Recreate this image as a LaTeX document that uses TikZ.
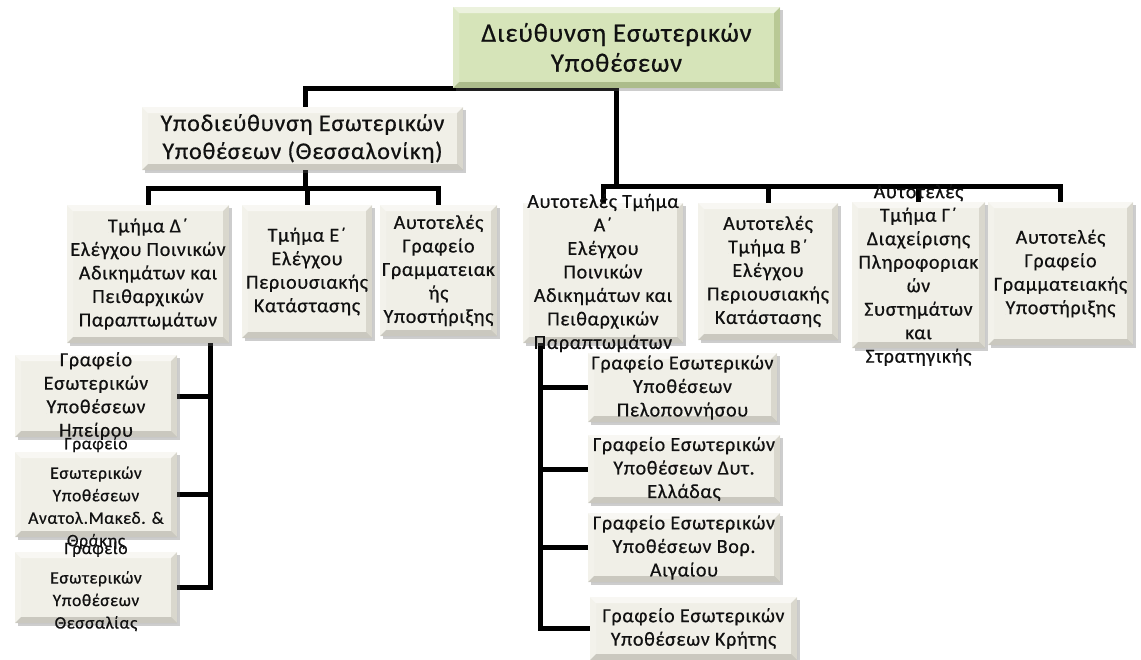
\documentclass[tikz,border=0pt]{standalone}
\usepackage{fontspec}
\setmainfont{Carlito}[LetterSpace=3.5,FakeBold=0.6,BoldFont=Carlito]
\usetikzlibrary{shadows,calc}
\pgfdeclarelayer{paperlayer}
\pgfdeclarelayer{wires}
\pgfsetlayers{paperlayer,wires,main}
\definecolor{paper}{HTML}{ECEADF}
\definecolor{leaf}{HTML}{C9DBA2}
\definecolor{ink}{HTML}{111111}

\tikzset{
  bevel/.style={path picture={
    \path (path picture bounding box.north west) coordinate (pnw)
          (path picture bounding box.north east) coordinate (pne)
          (path picture bounding box.south west) coordinate (psw)
          (path picture bounding box.south east) coordinate (pse);
    \fill[white,opacity=.25] ($(pnw)+(6,6)$) rectangle ($(pse)+(-6,-6)$);
    \fill[white,opacity=.65] (pnw) -- (pne) -- ($(pne)+(-6,6)$) -- ($(pnw)+(6,6)$) -- cycle;
    \fill[white,opacity=.40] (pnw) -- ($(pnw)+(6,6)$) -- ($(psw)+(6,-6)$) -- (psw) -- cycle;
    \fill[black,opacity=.14] (psw) -- (pse) -- ($(pse)+(-6,-6)$) -- ($(psw)+(6,-6)$) -- cycle;
    \fill[black,opacity=.08] (pne) -- (pse) -- ($(pse)+(-6,-6)$) -- ($(pne)+(-6,6)$) -- cycle;
  }},
  card/.style={rectangle, inner sep=0pt, outer sep=0pt, fill=#1, bevel,
    drop shadow={shadow xshift=2.5pt, shadow yshift=-3pt, opacity=.32, fill=black!60}},
  card/.default=paper,
  boxtext/.style={align=center, text=ink, inner sep=0pt,
    font=\fontsize{20}{23.5}\bfseries},
  smalltext/.style={boxtext, font=\fontsize{17.5}{22.5}\bfseries},
  wire/.style={draw=black, line width=5pt, line join=miter}
}

\begin{document}
\begin{tikzpicture}[x=1pt,y=-1pt]
  \begin{pgfonlayer}{paperlayer}
    \fill[white] (0,0) rectangle (1141,659);
  \end{pgfonlayer}
  \useasboundingbox (0,0) rectangle (1141,659);

  % head office
  \node[card=leaf, minimum width=327, minimum height=81] (top) at (616.5,47.5) {};
  \node[boxtext, font=\fontsize{26.5}{30}\selectfont] (topT) at (top.center)
    {Διεύθυνση Εσωτερικών\\Υποθέσεων};

  % sub-directorate
  \node[card, minimum width=321, minimum height=63] (sub) at (302.5,138.5) {};
  \node[boxtext, font=\fontsize{24}{28}\selectfont] (subT) at (sub.center)
    {Υποδιεύθυνση Εσωτερικών\\Υποθέσεων (Θεσσαλονίκη)};

  % departments under the sub-directorate
  \node[card, minimum width=162, minimum height=138] (D) at (148,274) {};
  \node[boxtext] (DT) at (D.center)
    {Τμήμα Δ΄\\Ελέγχου Ποινικών\\Αδικημάτων και\\Πειθαρχικών\\Παραπτωμάτων};
  \node[card, minimum width=130, minimum height=133] (E) at (307,271.5) {};
  \node[boxtext] (ET) at (E.center)
    {Τμήμα Ε΄\\Ελέγχου\\Περιουσιακής\\Κατάστασης};
  \node[card, minimum width=117, minimum height=131] (AG) at (438.5,270.5) {};
  \node[boxtext] (AGT) at (AG.center)
    {Αυτοτελές\\Γραφείο\\Γραμματειακ\\ής\\Υποστήριξης};

  % departments under the head office
  \node[card, minimum width=160, minimum height=140] (A) at (603,273) {};
  \node[boxtext] (AT) at (A.center)
    {Αυτοτελές Τμήμα\\Α΄\\Ελέγχου\\Ποινικών\\Αδικημάτων και\\Πειθαρχικών\\Παραπτωμάτων};
  \node[card, minimum width=140, minimum height=137] (B) at (768,271.5) {};
  \node[boxtext] (BT) at (B.center)
    {Αυτοτελές\\Τμήμα Β΄\\Ελέγχου\\Περιουσιακής\\Κατάστασης};
  \node[card, minimum width=133, minimum height=146] (G) at (918.5,275) {};
  \node[boxtext] (GT) at (G.center)
    {Αυτοτελές\\Τμήμα Γ΄\\Διαχείρισης\\Πληροφοριακ\\ών\\Συστημάτων\\και\\Στρατηγικής};
  \node[card, minimum width=145, minimum height=143] (H) at (1060.5,273.5) {};
  \node[boxtext] (HT) at (H.center)
    {Αυτοτελές\\Γραφείο\\Γραμματειακής\\Υποστήριξης};

  % regional offices, northern group
  \node[card, minimum width=162, minimum height=82] (L1) at (96,396) {};
  \node[boxtext] (L1T) at (L1.center)
    {Γραφείο\\Εσωτερικών\\Υποθέσεων\\Ηπείρου};
  \node[card, minimum width=162, minimum height=85] (L2) at (96,494.5) {};
  \node[smalltext] (L2T) at ([yshift=1.5]L2.center)
    {Γραφείο\\[7pt]Εσωτερικών\\Υποθέσεων\\Ανατολ.Μακεδ. \&\\Θράκης};
  \node[card, minimum width=162, minimum height=71] (L3) at (96,587.5) {};
  \node[smalltext] (L3T) at ([yshift=1]L3.center)
    {Γραφείο\\[7pt]Εσωτερικών\\Υποθέσεων\\Θεσσαλίας};

  % regional offices, southern group
  \node[card, minimum width=189, minimum height=69] (R1) at (682.5,387.5) {};
  \node[boxtext] (R1T) at (R1.center)
    {Γραφείο Εσωτερικών\\Υποθέσεων\\Πελοποννήσου};
  \node[card, minimum width=192, minimum height=68] (R2) at (684,469) {};
  \node[boxtext] (R2T) at (R2.center)
    {Γραφείο Εσωτερικών\\Υποθέσεων Δυτ.\\Ελλάδας};
  \node[card, minimum width=192, minimum height=69] (R3) at (684,547.5) {};
  \node[boxtext] (R3T) at (R3.center)
    {Γραφείο Εσωτερικών\\Υποθέσεων Βορ.\\Αιγαίου};
  \node[card, minimum width=207, minimum height=63] (R4) at (693.5,628.5) {};
  \node[boxtext] (R4T) at (R4.center)
    {Γραφείο Εσωτερικών\\Υποθέσεων Κρήτης};

  % connectors, drawn beneath the boxes
  \begin{pgfonlayer}{wires}
    \draw[wire] (sub.north -| 305,0) |- (top.south);
    \draw[wire] (A.north) -- ++(0,-17) coordinate (rbus) -| (H.north);
    \draw[wire] (top.south) -- (top.south |- rbus);
    \draw[wire] (B.north) -- (B.north |- rbus);
    \draw[wire] (G.north) -- (G.north |- rbus);

    \draw[wire] (D.north) -- ++(0,-17) coordinate (lbus) -| (AG.north);
    \draw[wire] (sub.south -| 305,0) -- (lbus -| 305,0);
    \draw[wire] (E.north) -- (E.north |- lbus);

    \draw[wire] (D.south east) ++(-19,0) coordinate (lv) -- (lv |- L3.east) -- (L3.east);
    \draw[wire] (L1.east) -- (L1.east -| lv);
    \draw[wire] (L2.east) -- (L2.east -| lv);

    \draw[wire] (A.south west) ++(17,0) coordinate (rv) -- (rv |- R4.west) -- (R4.west);
    \draw[wire] (R1.west) -- (R1.west -| rv);
    \draw[wire] (R2.west) -- (R2.west -| rv);
    \draw[wire] (R3.west) -- (R3.west -| rv);
  \end{pgfonlayer}
\end{tikzpicture}
\end{document}
